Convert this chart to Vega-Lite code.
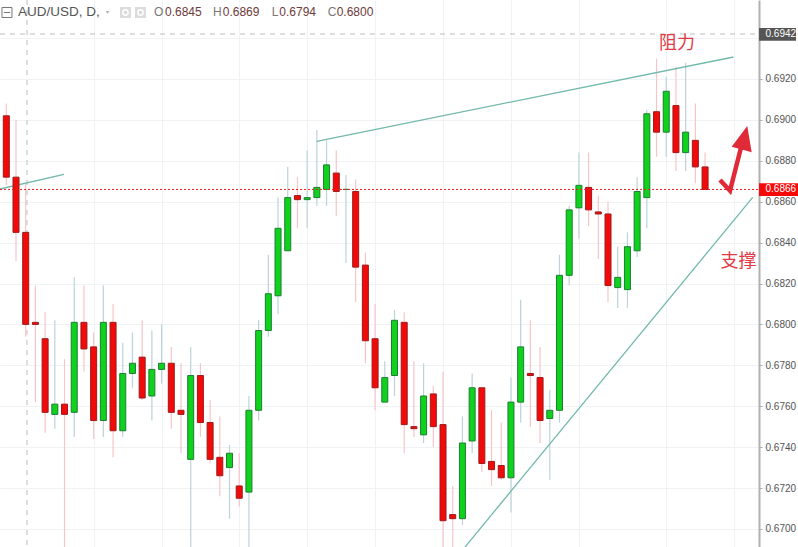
{"$schema":"https://vega.github.io/schema/vega-lite/v6.json","width":798,"height":547,"padding":0,"autosize":{"type":"none"},"background":"white","view":{"stroke":null},"config":{"scale":{"continuousPadding":0},"text":{"font":"Liberation Sans"},"axis":{"labelFont":"Liberation Sans"}},
"datasets":{"c":[
{"i":0,"o":0.6902,"h":0.6908,"l":0.6868,"c":0.6872},{"i":1,"o":0.6872,"h":0.69,"l":0.6831,"c":0.6845},{"i":2,"o":0.6845,"h":0.6869,"l":0.6794,"c":0.68},{"i":3,"o":0.6801,"h":0.6819,"l":0.6762,"c":0.68},{"i":4,"o":0.6793,"h":0.6806,"l":0.6747,"c":0.6757},{"i":5,"o":0.6756,"h":0.6802,"l":0.6749,"c":0.6761},{"i":6,"o":0.6761,"h":0.6783,"l":0.669,"c":0.6756},{"i":7,"o":0.6757,"h":0.6823,"l":0.6745,"c":0.6801},{"i":8,"o":0.6801,"h":0.6819,"l":0.6777,"c":0.6788},{"i":9,"o":0.6789,"h":0.6796,"l":0.6744,"c":0.6753},
{"i":10,"o":0.6753,"h":0.6819,"l":0.6745,"c":0.6801},{"i":11,"o":0.6801,"h":0.681,"l":0.6735,"c":0.6748},{"i":12,"o":0.6748,"h":0.6791,"l":0.6745,"c":0.6776},{"i":13,"o":0.6776,"h":0.6796,"l":0.6769,"c":0.6781},{"i":14,"o":0.6784,"h":0.6802,"l":0.6763,"c":0.6764},{"i":15,"o":0.6765,"h":0.6797,"l":0.6753,"c":0.6778},{"i":16,"o":0.6778,"h":0.68,"l":0.6771,"c":0.6781},{"i":17,"o":0.6781,"h":0.6789,"l":0.6749,"c":0.6757},{"i":18,"o":0.6758,"h":0.6781,"l":0.6737,"c":0.6756},{"i":19,"o":0.6734,"h":0.6789,"l":0.669,"c":0.6775},
{"i":20,"o":0.6775,"h":0.6781,"l":0.6745,"c":0.6752},{"i":21,"o":0.6752,"h":0.6763,"l":0.6732,"c":0.6734},{"i":22,"o":0.6735,"h":0.6755,"l":0.6716,"c":0.6726},{"i":23,"o":0.673,"h":0.6741,"l":0.6705,"c":0.6737},{"i":24,"o":0.6721,"h":0.6737,"l":0.6711,"c":0.6715},{"i":25,"o":0.6718,"h":0.6765,"l":0.669,"c":0.6758},{"i":26,"o":0.6758,"h":0.6802,"l":0.6753,"c":0.6797},{"i":27,"o":0.6797,"h":0.6834,"l":0.6794,"c":0.6815},{"i":28,"o":0.6814,"h":0.6862,"l":0.6805,"c":0.6847},{"i":29,"o":0.6836,"h":0.6877,"l":0.6836,"c":0.6862},
{"i":30,"o":0.6863,"h":0.6872,"l":0.6847,"c":0.6861},{"i":31,"o":0.6861,"h":0.6885,"l":0.6847,"c":0.6862},{"i":32,"o":0.6862,"h":0.6895,"l":0.6858,"c":0.6867},{"i":33,"o":0.6866,"h":0.689,"l":0.6858,"c":0.6878},{"i":34,"o":0.6874,"h":0.6885,"l":0.6853,"c":0.6865},{"i":35,"o":0.6866,"h":0.6873,"l":0.683,"c":0.6866},{"i":36,"o":0.6865,"h":0.6871,"l":0.6811,"c":0.6828},{"i":37,"o":0.6829,"h":0.6835,"l":0.6781,"c":0.6792},{"i":38,"o":0.6793,"h":0.681,"l":0.6758,"c":0.6769},{"i":39,"o":0.6762,"h":0.6782,"l":0.6762,"c":0.6774},
{"i":40,"o":0.6775,"h":0.6807,"l":0.6765,"c":0.6802},{"i":41,"o":0.6801,"h":0.6806,"l":0.6737,"c":0.6751},{"i":42,"o":0.675,"h":0.6782,"l":0.6745,"c":0.6749},{"i":43,"o":0.6746,"h":0.6781,"l":0.6742,"c":0.6765},{"i":44,"o":0.6766,"h":0.677,"l":0.674,"c":0.675},{"i":45,"o":0.6751,"h":0.6777,"l":0.669,"c":0.6704},{"i":46,"o":0.6707,"h":0.6721,"l":0.669,"c":0.6705},{"i":47,"o":0.6705,"h":0.6755,"l":0.6702,"c":0.6742},{"i":48,"o":0.6743,"h":0.6776,"l":0.6737,"c":0.6769},{"i":49,"o":0.6769,"h":0.6769,"l":0.6728,"c":0.6732},
{"i":50,"o":0.6733,"h":0.6758,"l":0.6721,"c":0.6729},{"i":51,"o":0.6731,"h":0.6752,"l":0.6724,"c":0.6725},{"i":52,"o":0.6725,"h":0.6774,"l":0.6708,"c":0.6762},{"i":53,"o":0.6762,"h":0.6812,"l":0.6752,"c":0.6789},{"i":54,"o":0.6776,"h":0.6802,"l":0.675,"c":0.6775},{"i":55,"o":0.6774,"h":0.6789,"l":0.6742,"c":0.6753},{"i":56,"o":0.6754,"h":0.6768,"l":0.6724,"c":0.6758},{"i":57,"o":0.6758,"h":0.6834,"l":0.6752,"c":0.6824},{"i":58,"o":0.6824,"h":0.6858,"l":0.6819,"c":0.6856},{"i":59,"o":0.6857,"h":0.6884,"l":0.6842,"c":0.6868},
{"i":60,"o":0.6867,"h":0.6884,"l":0.6848,"c":0.6856},{"i":61,"o":0.6855,"h":0.6863,"l":0.6832,"c":0.6854},{"i":62,"o":0.6854,"h":0.686,"l":0.6811,"c":0.6819},{"i":63,"o":0.6818,"h":0.6838,"l":0.6808,"c":0.6823},{"i":64,"o":0.6817,"h":0.6845,"l":0.6808,"c":0.6838},{"i":65,"o":0.6836,"h":0.6872,"l":0.6833,"c":0.6865},{"i":66,"o":0.6862,"h":0.6905,"l":0.6847,"c":0.6903},{"i":67,"o":0.6904,"h":0.693,"l":0.6882,"c":0.6894},{"i":68,"o":0.6894,"h":0.6921,"l":0.6882,"c":0.6914},{"i":69,"o":0.6907,"h":0.6926,"l":0.6875,"c":0.6884},
{"i":70,"o":0.6884,"h":0.6928,"l":0.6875,"c":0.6894},{"i":71,"o":0.689,"h":0.6908,"l":0.6869,"c":0.6877},{"i":72,"o":0.6877,"h":0.6884,"l":0.6866,"c":0.6866}]},
"layer":[
{"data":{"values":[{"x":-0.649,"x2":77.56,"y":0.6942}]},"mark":{"type":"rule","color":"#bdbdbd","strokeDash":[5,5],"strokeWidth":1},"encoding":{
"x":{"field":"x","type":"quantitative","title":null,"scale":{"domain":[-0.649,81.576],"nice":false,"zero":false},"axis":{"values":[9,16,24,31,38,45,52,59,68,75],"grid":true,"gridColor":"#f0f3f5","gridWidth":1,"labels":false,"ticks":false,"domain":false,"title":null}},"x2":{"field":"x2"},
"y":{"field":"y","type":"quantitative","title":null,"scale":{"domain":[0.669115,0.695863],"nice":false,"zero":false},"axis":{"orient":"right","offset":-39,"values":[0.67,0.672,0.674,0.676,0.678,0.68,0.682,0.684,0.686,0.688,0.69,0.692,0.694],"labelExpr":"format(datum.value,'.4f')=='0.6940'?'':format(datum.value,'.4f')","grid":true,"gridColor":"#f0f3f5","gridWidth":1,"tickSize":3,"tickColor":"#b0b0b0","domainColor":"#b0b0b0","domainWidth":2,"labelColor":"#555555","labelFontSize":10,"labelPadding":3,"labelOverlap":false,"labelBound":false,"title":null}}}},
{"data":{"values":[{"v":2.133}]},"mark":{"type":"rule","color":"#bdbdbd","strokeDash":[5,5],"strokeWidth":1},"encoding":{"x":{"field":"v","type":"quantitative","scale":{"domain":[-0.649,81.576],"nice":false,"zero":false}}}},
{"data":{"name":"c"},"transform":[{"filter":"datum.c<datum.o"}],"mark":{"type":"rule","color":"#f7c4c9","strokeWidth":1.2,"clip":true},"encoding":{"x":{"field":"i","type":"quantitative","scale":{"domain":[-0.649,81.576],"nice":false,"zero":false}},"y":{"field":"h","type":"quantitative","scale":{"domain":[0.669115,0.695863],"nice":false,"zero":false}},"y2":{"field":"l"}}},
{"data":{"name":"c"},"transform":[{"filter":"datum.c>=datum.o"}],"mark":{"type":"rule","color":"#bcd3d8","strokeWidth":1.2,"clip":true},"encoding":{"x":{"field":"i","type":"quantitative","scale":{"domain":[-0.649,81.576],"nice":false,"zero":false}},"y":{"field":"h","type":"quantitative","scale":{"domain":[0.669115,0.695863],"nice":false,"zero":false}},"y2":{"field":"l"}}},
{"data":{"values":[{"s":"a","x":-0.649,"y":0.686621},{"s":"a","x":5.945,"y":0.68734},{"s":"b","x":31.98,"y":0.688954},{"s":"b","x":74.93,"y":0.693076},{"s":"c","x":47.26,"y":0.66911},{"s":"c","x":76.91,"y":0.686215}]},"mark":{"type":"line","color":"#74b8ac","strokeWidth":1.3},"encoding":{"detail":{"field":"s"},"x":{"field":"x","type":"quantitative","scale":{"domain":[-0.649,81.576],"nice":false,"zero":false}},"y":{"field":"y","type":"quantitative","scale":{"domain":[0.669115,0.695863],"nice":false,"zero":false}}}},
{"data":{"name":"c"},"transform":[{"filter":"datum.c<datum.o"}],"mark":{"type":"bar","size":6,"color":"#f20a0a","stroke":"#9c1a1a","strokeWidth":1},"encoding":{"x":{"field":"i","type":"quantitative","scale":{"domain":[-0.649,81.576],"nice":false,"zero":false}},"y":{"field":"o","type":"quantitative","scale":{"domain":[0.669115,0.695863],"nice":false,"zero":false}},"y2":{"field":"c"}}},
{"data":{"name":"c"},"transform":[{"filter":"datum.c>=datum.o"}],"mark":{"type":"bar","size":6,"color":"#0fd21c","stroke":"#1c7d33","strokeWidth":1},"encoding":{"x":{"field":"i","type":"quantitative","scale":{"domain":[-0.649,81.576],"nice":false,"zero":false}},"y":{"field":"o","type":"quantitative","scale":{"domain":[0.669115,0.695863],"nice":false,"zero":false}},"y2":{"field":"c"}}},
{"data":{"values":[{"x":-0.649,"x2":77.56,"y":0.6866}]},"mark":{"type":"rule","color":"#f01818","strokeDash":[2,2],"strokeWidth":1,"opacity":1},"encoding":{"x":{"field":"x","type":"quantitative","scale":{"domain":[-0.649,81.576],"nice":false,"zero":false}},"x2":{"field":"x2"},"y":{"field":"y","type":"quantitative","scale":{"domain":[0.669115,0.695863],"nice":false,"zero":false}}}},
{"data":{"values":[{"x":73.54,"y":0.687061},{"x":74.57,"y":0.686538},{"x":75.77,"y":0.688773}]},"mark":{"type":"line","color":"#e02a38","strokeWidth":4.5,"strokeJoin":"miter"},"encoding":{"x":{"field":"x","type":"quantitative","sort":null,"scale":{"domain":[-0.649,81.576],"nice":false,"zero":false}},"y":{"field":"y","type":"quantitative","scale":{"domain":[0.669115,0.695863],"nice":false,"zero":false}}}},
{"data":{"values":[{"x":74.74,"y":0.688689,"y2":0.688689},{"x":76.35,"y":0.689702,"y2":0.688474},{"x":76.8,"y":0.688416,"y2":0.688416}]},"mark":{"type":"area","color":"#e02a38","opacity":1},"encoding":{"x":{"field":"x","type":"quantitative","scale":{"domain":[-0.649,81.576],"nice":false,"zero":false}},"y":{"field":"y","type":"quantitative","scale":{"domain":[0.669115,0.695863],"nice":false,"zero":false}},"y2":{"field":"y2"}}},
{"data":{"values":[{"x":78.23,"y":0.696,"t":"0.6960"}]},"mark":{"type":"text","align":"left","baseline":"middle","fontSize":10,"color":"#555555"},"encoding":{"x":{"field":"x","type":"quantitative","scale":{"domain":[-0.649,81.576],"nice":false,"zero":false}},"y":{"field":"y","type":"quantitative","scale":{"domain":[0.669115,0.695863],"nice":false,"zero":false}},"text":{"field":"t"}}},
{"data":{"values":[{"x":77.56,"x2":81.6,"y":0.6869,"y2":0.686279}]},"mark":{"type":"rect","color":"#f50a0a"},"encoding":{"x":{"field":"x","type":"quantitative","scale":{"domain":[-0.649,81.576],"nice":false,"zero":false}},"x2":{"field":"x2"},"y":{"field":"y","type":"quantitative","scale":{"domain":[0.669115,0.695863],"nice":false,"zero":false}},"y2":{"field":"y2"}}},
{"data":{"values":[{"x":77.56,"x2":81.37,"y":0.694494,"y2":0.693873}]},"mark":{"type":"rect","color":"#555555"},"encoding":{"x":{"field":"x","type":"quantitative","scale":{"domain":[-0.649,81.576],"nice":false,"zero":false}},"x2":{"field":"x2"},"y":{"field":"y","type":"quantitative","scale":{"domain":[0.669115,0.695863],"nice":false,"zero":false}},"y2":{"field":"y2"}}},
{"data":{"values":[{"x":78.23,"y":0.6866,"t":"0.6866"},{"x":78.23,"y":0.6942,"t":"0.6942"}]},"mark":{"type":"text","align":"left","baseline":"middle","fontSize":10,"color":"#ffffff"},"encoding":{"x":{"field":"x","type":"quantitative","scale":{"domain":[-0.649,81.576],"nice":false,"zero":false}},"y":{"field":"y","type":"quantitative","scale":{"domain":[0.669115,0.695863],"nice":false,"zero":false}},"text":{"field":"t"}}},
{"data":{"values":[{"x":69.11,"y":0.693711,"t":"阻力"},{"x":75.44,"y":0.683027,"t":"支撑"}]},"mark":{"type":"text","align":"center","baseline":"middle","fontSize":18,"font":"Noto Sans CJK SC","color":"#e23a45"},"encoding":{"x":{"field":"x","type":"quantitative","scale":{"domain":[-0.649,81.576],"nice":false,"zero":false}},"y":{"field":"y","type":"quantitative","scale":{"domain":[0.669115,0.695863],"nice":false,"zero":false}},"text":{"field":"t"}}},
{"data":{"values":[{"x":1.206,"y":0.695252,"t":"AUD/USD, D,"}]},"mark":{"type":"text","align":"left","baseline":"middle","fontSize":13.5,"color":"#555555"},"encoding":{"x":{"field":"x","type":"quantitative","scale":{"domain":[-0.649,81.576],"nice":false,"zero":false}},"y":{"field":"y","type":"quantitative","scale":{"domain":[0.669115,0.695863],"nice":false,"zero":false}},"text":{"field":"t"}}},
{"data":{"values":[{"x":15.22,"y":0.695252,"t":"O"},{"x":21.3,"y":0.695252,"t":"H"},{"x":27.35,"y":0.695252,"t":"L"},{"x":33.12,"y":0.695252,"t":"C"}]},"mark":{"type":"text","align":"left","baseline":"middle","fontSize":12,"color":"#777777"},"encoding":{"x":{"field":"x","type":"quantitative","scale":{"domain":[-0.649,81.576],"nice":false,"zero":false}},"y":{"field":"y","type":"quantitative","scale":{"domain":[0.669115,0.695863],"nice":false,"zero":false}},"text":{"field":"t"}}},
{"data":{"values":[{"x":16.35,"y":0.695252,"t":"0.6845"},{"x":22.3,"y":0.695252,"t":"0.6869"},{"x":28.13,"y":0.695252,"t":"0.6794"},{"x":34.04,"y":0.695252,"t":"0.6800"}]},"mark":{"type":"text","align":"left","baseline":"middle","fontSize":12,"color":"#6e3a3a"},"encoding":{"x":{"field":"x","type":"quantitative","scale":{"domain":[-0.649,81.576],"nice":false,"zero":false}},"y":{"field":"y","type":"quantitative","scale":{"domain":[0.669115,0.695863],"nice":false,"zero":false}},"text":{"field":"t"}}},
{"data":{"values":[{"x":0.07,"y":0.695252}]},"mark":{"type":"point","shape":"square","size":100,"filled":false,"color":"#777777","strokeWidth":1,"opacity":1},"encoding":{"x":{"field":"x","type":"quantitative","scale":{"domain":[-0.649,81.576],"nice":false,"zero":false}},"y":{"field":"y","type":"quantitative","scale":{"domain":[0.669115,0.695863],"nice":false,"zero":false}}}},
{"data":{"values":[{"x":0.07,"y":0.695252}]},"mark":{"type":"point","shape":"stroke","size":40,"filled":false,"color":"#777777","strokeWidth":1,"opacity":1},"encoding":{"x":{"field":"x","type":"quantitative","scale":{"domain":[-0.649,81.576],"nice":false,"zero":false}},"y":{"field":"y","type":"quantitative","scale":{"domain":[0.669115,0.695863],"nice":false,"zero":false}}}},
{"data":{"values":[{"x":10.43,"y":0.695252}]},"mark":{"type":"point","shape":"triangle-down","size":14,"filled":true,"color":"#b5b5b5","opacity":1},"encoding":{"x":{"field":"x","type":"quantitative","scale":{"domain":[-0.649,81.576],"nice":false,"zero":false}},"y":{"field":"y","type":"quantitative","scale":{"domain":[0.669115,0.695863],"nice":false,"zero":false}}}},
{"data":{"values":[{"x":12.28,"y":0.695252},{"x":13.83,"y":0.695252}]},"mark":{"type":"point","shape":"square","size":121,"filled":true,"color":"#dcdcdc","opacity":1},"encoding":{"x":{"field":"x","type":"quantitative","scale":{"domain":[-0.649,81.576],"nice":false,"zero":false}},"y":{"field":"y","type":"quantitative","scale":{"domain":[0.669115,0.695863],"nice":false,"zero":false}}}},
{"data":{"values":[{"x":12.28,"y":0.695252},{"x":13.83,"y":0.695252}]},"mark":{"type":"point","shape":"circle","size":28,"filled":false,"color":"#ffffff","strokeWidth":1.5,"opacity":1},"encoding":{"x":{"field":"x","type":"quantitative","scale":{"domain":[-0.649,81.576],"nice":false,"zero":false}},"y":{"field":"y","type":"quantitative","scale":{"domain":[0.669115,0.695863],"nice":false,"zero":false}}}}
]}
